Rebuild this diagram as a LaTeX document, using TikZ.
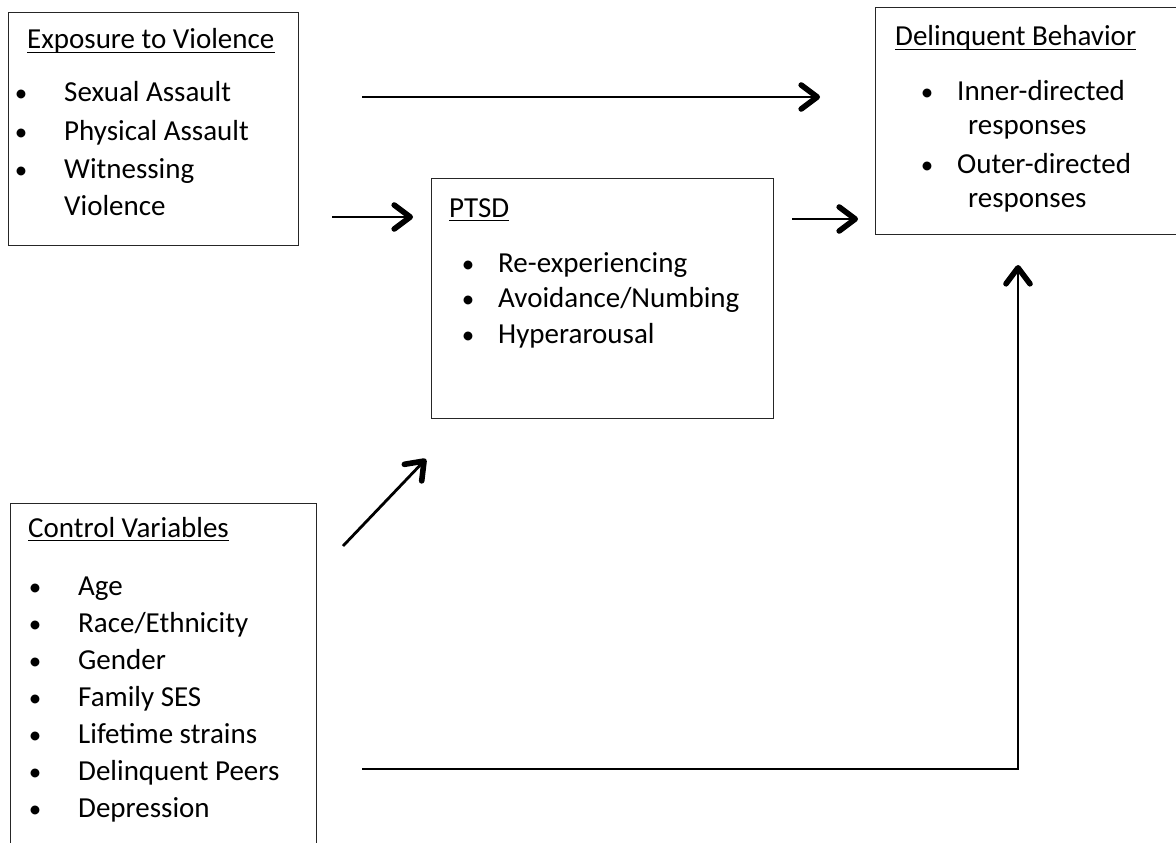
\documentclass[tikz,border=0pt]{standalone}
\usepackage{fontspec}
\setmainfont{Carlito}
\usetikzlibrary{arrows.meta}
\tikzset{
  box/.style={draw=black!85, line width=1.4pt, anchor=north west, inner sep=0pt, rectangle},
  txt/.style={anchor=base west, inner sep=0pt, font=\fontsize{29}{35}\selectfont},
  bul/.style={anchor=base, inner sep=0pt, font=\fontsize{25}{30}\selectfont},
  uline/.style={line width=1.3pt},
  arr/.style={line width=2.8pt, -{Straight Barb[length=16pt, width=24pt, line width=5.6pt, round]}},
}
\begin{document}
\begin{tikzpicture}[x=1pt, y=-1pt]
\useasboundingbox (0,0) rectangle (1176,843);
\fill[white] (0,0) rectangle (1176,843);
\begin{scope}
\clip (0,0) rectangle (1176,843);
% boxes
\node[box, minimum width=290pt, minimum height=233pt] (expo) at (8,12) {};
\node[box, minimum width=342pt, minimum height=240pt] (ptsd) at (431,178) {};
\node[box, minimum width=320pt, minimum height=227pt] (delq) at (875,7) {};
\node[box, minimum width=306pt, minimum height=380pt] (ctrl) at (10,503) {};

% Exposure to Violence
\node[txt] (expoT) at (27,49) {Exposure to Violence};
\draw[uline] ([yshift=-3.5pt]expoT.base west) -- ([yshift=-3.5pt]expoT.base east);
\node[bul] (eb1) at (21,102) {•};
\node[txt] (e1) at (64,102) {Sexual Assault};
\node[bul] (eb2) at (21,140) {•};
\node[txt] (e2) at (64,140) {Physical Assault};
\node[bul] (eb3) at (21,178) {•};
\node[txt] (e3) at (64,178) {Witnessing};
\node[txt] (e4) at (64,215) {Violence};

% PTSD
\node[txt] (ptsdT) at (449,217) {PTSD};
\draw[uline] ([yshift=-3.5pt]ptsdT.base west) -- ([yshift=-3.5pt]ptsdT.base east);
\node[bul] (pb1) at (468,272) {•};
\node[txt] (p1) at (498,272) {Re-experiencing};
\node[bul] (pb2) at (468,307) {•};
\node[txt] (p2) at (498,307) {Avoidance/Numbing};
\node[bul] (pb3) at (468,343) {•};
\node[txt] (p3) at (498,343) {Hyperarousal};

% Delinquent Behavior
\node[txt] (delqT) at (895,46) {Delinquent Behavior};
\draw[uline] ([yshift=-3.5pt]delqT.base west) -- ([yshift=-3.5pt]delqT.base east);
\node[bul] (db1) at (927,100) {•};
\node[txt] (d1) at (957,100) {Inner-directed};
\node[txt] (d2) at (968,135) {responses};
\node[bul] (db2) at (927,173) {•};
\node[txt] (d3) at (957,173) {Outer-directed};
\node[txt] (d4) at (968,207) {responses};

% Control Variables
\node[txt] (ctrlT) at (28,537) {Control Variables};
\draw[uline] ([yshift=-3.5pt]ctrlT.base west) -- ([yshift=-3.5pt]ctrlT.base east);
\foreach \t [count=\i] in {Age,Race/Ethnicity,Gender,Family SES,Lifetime strains,Delinquent Peers,Depression} {
  \node[bul] (cb\i) at (35,{595+37*(\i-1)}) {•};
  \node[txt] (c\i) at (78,{595+37*(\i-1)}) {\t};
}

% connector end points
\coordinate (a1s) at (362,97);
\coordinate (a1e) at (820,97);
\coordinate (a2s) at (332,217);
\coordinate (a2e) at (413,217);
\coordinate (a3s) at (792,219);
\coordinate (a3e) at (858,219);
\coordinate (a4s) at (343,546);
\coordinate (a4e) at (426,459);
\coordinate (a5s) at (362,769);
\coordinate (a5c) at (1018,769);
\coordinate (a5e) at (1018,265);

\draw[arr] (a1s) -- (a1e);
\draw[arr] (a2s) -- (a2e);
\draw[arr] (a3s) -- (a3e);
\draw[arr] (a4s) -- (a4e);
\draw[arr] (a5s) -- (a5c) -- (a5e);
\end{scope}
\end{tikzpicture}
\end{document}
